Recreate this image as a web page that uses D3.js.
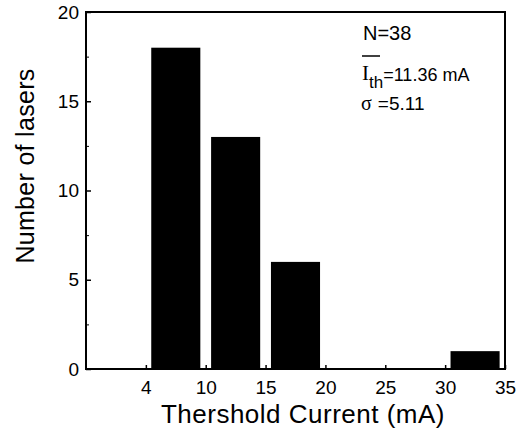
<!DOCTYPE html>
<html>
<head>
<meta charset="utf-8">
<script src="https://cdn.jsdelivr.net/npm/d3@7"></script>
<style>
body { margin: 0; background: #fff; }
svg { display: block; font-family: "Liberation Sans", Arial, sans-serif; }
</style>
</head>
<body>
<script>
// histogram bins (mA) and counts
var binLo = [5, 10, 15, 30];
var binHi = [10, 15, 20, 35];
var counts = [18, 13, 6, 1];

var xTickValues = [5, 10, 15, 20, 25, 30, 35];
var xTickLabels = ["4", "10", "15", "20", "25", "30", "35"];
var yTickValues = [0, 5, 10, 15, 20];
var yMinorTicks = [2.5, 7.5, 12.5, 17.5];

var width = 524, height = 434;
var svg = d3.select("body").append("svg")
	.attr("width", width)
	.attr("height", height);

var x = d3.scaleLinear().domain([0, 35]).range([86, 505]);
var y = d3.scaleLinear().domain([0, 20]).range([369, 12]);

//bars
var gap = 0.45;
svg.append("g").selectAll("rect")
	.data(counts)
	.enter()
	.append("rect")
	.attr("x", function(d, i) { return x(binLo[i] + gap); })
	.attr("width", function(d, i) { return x(binHi[i] - gap) - x(binLo[i] + gap); })
	.attr("y", function(d) { return y(d); })
	.attr("height", function(d) { return y(0) - y(d); })
	.attr("fill", "#000");

//x axis
var xAxis = d3.axisBottom(x)
	.tickValues(xTickValues)
	.tickFormat(function(d, i) { return xTickLabels[i]; })
	.tickSize(-4)
	.tickPadding(12);
var gx = svg.append("g")
	.attr("transform", "translate(0," + y(0) + ")")
	.call(xAxis);
gx.select(".domain").remove();
gx.selectAll("line").attr("stroke-width", 1.5);
gx.selectAll("text").attr("font-size", 19).attr("font-family", "Liberation Sans, Arial, sans-serif");

//y axis
var yAxis = d3.axisLeft(y)
	.tickValues(yTickValues)
	.tickSize(-5)
	.tickPadding(7);
var gy = svg.append("g")
	.attr("transform", "translate(" + x(0) + ",0)")
	.call(yAxis);
gy.select(".domain").remove();
gy.selectAll("line").attr("stroke-width", 1.5);
gy.selectAll("text").attr("font-size", 19).attr("font-family", "Liberation Sans, Arial, sans-serif");

var gyMinor = svg.append("g")
	.attr("transform", "translate(" + x(0) + ",0)")
	.call(d3.axisLeft(y).tickValues(yMinorTicks).tickSize(-3).tickFormat(""));
gyMinor.select(".domain").remove();

//frame
svg.append("rect")
	.attr("x", x(0))
	.attr("y", y(20))
	.attr("width", x(35) - x(0))
	.attr("height", y(0) - y(20))
	.attr("fill", "none")
	.attr("stroke", "#000")
	.attr("stroke-width", 2);

//axis titles
svg.append("text")
	.attr("x", 303)
	.attr("y", 423)
	.attr("text-anchor", "middle")
	.attr("font-size", 26)
	.attr("letter-spacing", 0.5)
	.text("Thershold Current (mA)");

svg.append("text")
	.attr("transform", "translate(34,166) rotate(-90)")
	.attr("text-anchor", "middle")
	.attr("font-size", 25)
	.attr("letter-spacing", 0.3)
	.text("Number of lasers");

//annotation
svg.append("text")
	.attr("x", 363)
	.attr("y", 40)
	.attr("font-size", 20)
	.text("N=38");

var ith = svg.append("text")
	.attr("x", 362)
	.attr("y", 80);
ith.append("tspan")
	.attr("font-family", "Liberation Serif, Times New Roman, serif")
	.attr("font-size", 21)
	.text("I");
ith.append("tspan")
	.attr("font-size", 17)
	.attr("dy", 8)
	.text("th");
ith.append("tspan")
	.attr("font-size", 18)
	.attr("dy", -7)
	.text("=11.36 mA");
svg.append("line")
	.attr("x1", 362).attr("x2", 380)
	.attr("y1", 56).attr("y2", 56)
	.attr("stroke", "#000")
	.attr("stroke-width", 1.5);

var sig = svg.append("text")
	.attr("x", 361)
	.attr("y", 110)
	.attr("font-size", 19);
sig.append("tspan")
	.attr("font-family", "Liberation Serif, Times New Roman, serif")
	.attr("font-size", 20)
	.text("\u03c3");
sig.append("tspan")
	.attr("dx", 6)
	.text("=5.11");
</script>
</body>
</html>
